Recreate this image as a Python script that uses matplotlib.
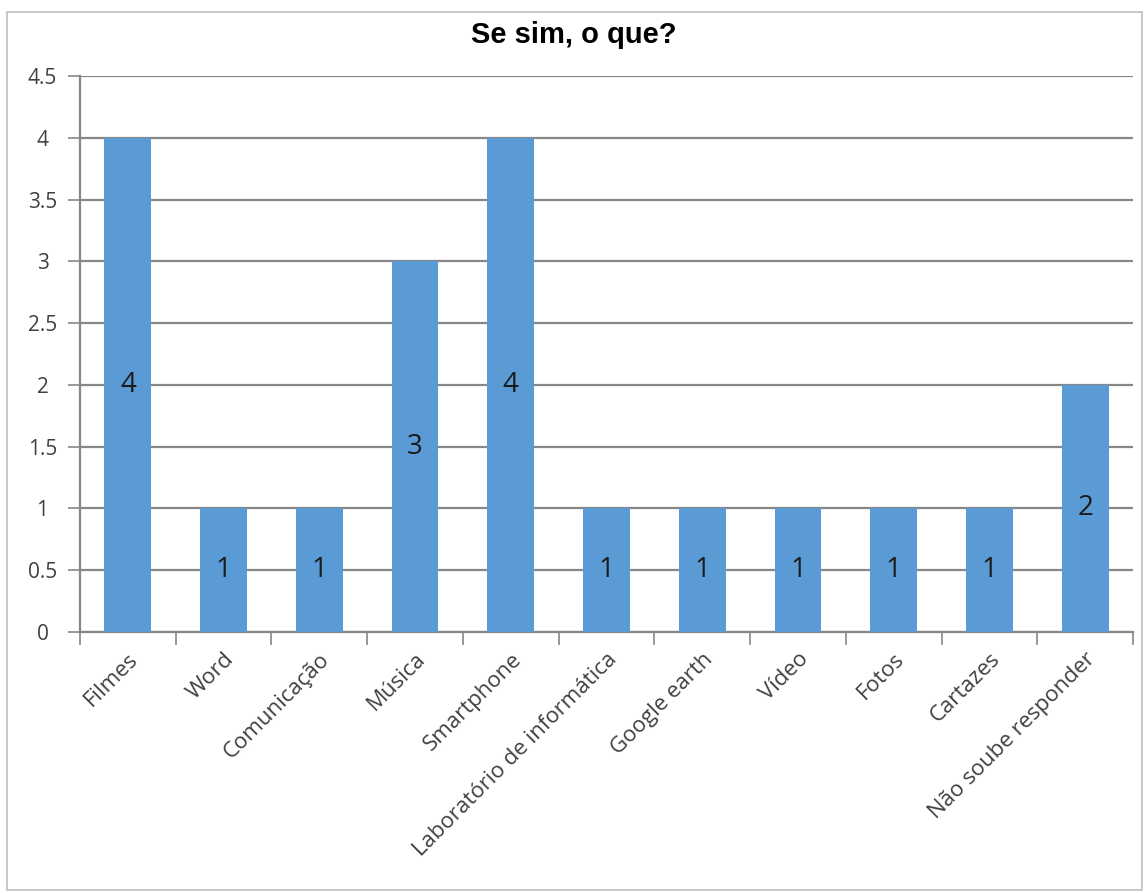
import matplotlib
matplotlib.use("Agg")
import matplotlib.pyplot as plt
from matplotlib.patches import Rectangle
import numpy as np

categories = ["Filmes", "Word", "Comunicação", "Música", "Smartphone",
              "Laboratório de informática", "Google earth", "Vídeo", "Fotos",
              "Cartazes", "Não soube responder"]
values = [4, 1, 1, 3, 4, 1, 1, 1, 1, 1, 2]
yticks = [0, 0.5, 1, 1.5, 2, 2.5, 3, 3.5, 4, 4.5]
ytick_labels = ["0", "0.5", "1", "1.5", "2", "2.5", "3", "3.5", "4", "4.5"]
title = "Se sim, o que?"

bar_color = "#5B9BD5"
grid_color = "#878787"
text_color = "#404040"
font = ["Open Sans", "DejaVu Sans"]

fig = plt.figure(figsize=(11.48, 8.93), dpi=100)
fig.patches.append(Rectangle((7/1148, 1-890/893), (1142-7)/1148, (890-12)/893,
                             transform=fig.transFigure, fill=False,
                             edgecolor="#BFBFBF", linewidth=1.2))

ax = fig.add_axes([80/1148, 1-632/893, (1133-80)/1148, (632-76)/893])
x = np.arange(len(categories))
ax.bar(x, values, width=0.49, color=bar_color, zorder=3)
ax.set_xlim(-0.5, len(categories)-0.5)
ax.set_ylim(0, 4.5)

for xi, v in zip(x, values):
    ax.text(xi, v/2, str(v), ha="center", va="center", fontsize=20,
            family=font, color="#1a1a1a", zorder=4)

ax.set_yticks(yticks)
ax.set_yticklabels(ytick_labels, family=font, fontsize=15, color=text_color)
for lab in ax.get_yticklabels():
    lab.set_horizontalalignment("center")
ax.yaxis.grid(True, color=grid_color, linewidth=1.6, zorder=0)
ax.tick_params(axis="y", length=9, width=1.2, color=grid_color, pad=18)

ax.set_xticks(np.arange(-0.5, len(categories), 1.0))
ax.set_xticklabels([])
ax.tick_params(axis="x", length=9, width=1.2, color=grid_color)
ax.set_xticks(x, minor=True)
ax.set_xticklabels(categories, minor=True, rotation=45, ha="right",
                   rotation_mode="anchor", family=font, fontsize=16,
                   color=text_color)
ax.tick_params(axis="x", which="minor", length=0, pad=12)

for s in ["top", "right"]:
    ax.spines[s].set_visible(False)
for s in ["left", "bottom"]:
    ax.spines[s].set_color(grid_color)
    ax.spines[s].set_linewidth(1.6)

fig.text(0.5, 1-35/893, title, ha="center", va="center", fontsize=21,
         fontweight="bold", family=["Liberation Sans", "DejaVu Sans"], color="black")

fig.savefig("out.png", dpi=100)
